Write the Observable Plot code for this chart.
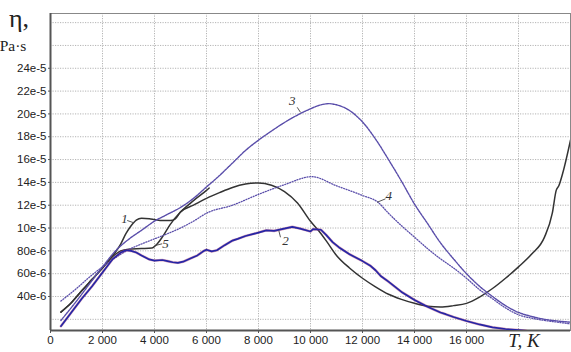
<!DOCTYPE html>
<html><head><meta charset="utf-8">
<script src="https://cdn.jsdelivr.net/npm/d3@7"></script>
<script src="https://cdn.jsdelivr.net/npm/@observablehq/plot@0.6"></script>
<style>body{margin:0;background:#fff} #chart svg{display:block}</style>
</head><body><div id="chart"></div>
<script>
// Values: temperature T (K) and viscosity eta (in units of 1e-5 Pa·s)
const T1 = [400,800,1200,1600,2000,2300,2500,2700,2900,3100,3300,3500,3800,4000,4300,4600,4800,5000,5500,6000,6500,7000,7500,8000,8500,9000,9500,10000,10300,10600,11000,11500,12000,12500,13000,13500,14000,14500,15000,15500,16000,16500,17000,17500,18000,18500,19000,19300,19450,19550,19700,20000];
const eta1 = [2.63,3.45,4.5,5.5,6.5,7.3,7.9,8.6,9.5,10.2,10.7,10.86,10.82,10.75,10.65,10.65,10.8,11.4,12.0,12.6,13.1,13.55,13.85,13.95,13.75,13.2,12.2,10.6,9.8,8.9,7.6,6.5,5.6,4.85,4.2,3.75,3.4,3.15,3.08,3.2,3.4,3.95,4.7,5.6,6.6,7.7,9.2,11.3,13.3,13.7,14.8,17.7];

const T2 = [400,800,1200,1600,2000,2400,2700,2900,3100,3300,3500,3800,4000,4300,4500,4700,4900,5100,5400,5650,5900,6000,6200,6400,6700,7000,7200,7500,8000,8300,8600,8900,9300,9600,10000,10100,10400,10600,10850,11100,11500,12000,12300,12500,12700,13000,13500,14000,14500,15000,15200,15500,16000,16500,17000,17500,18000,18300];
const eta2 = [1.4,2.6,3.8,4.9,6.1,7.3,7.85,8.05,8.0,7.85,7.6,7.25,7.15,7.2,7.1,7.0,6.95,7.05,7.35,7.6,8.0,8.1,7.95,8.05,8.5,8.9,9.05,9.3,9.6,9.8,9.75,9.9,10.1,9.95,9.7,9.9,9.85,9.4,8.76,8.3,7.7,7.1,6.7,6.3,5.8,5.3,4.4,3.7,3.1,2.6,2.45,2.2,1.85,1.55,1.3,1.15,1.05,1.0];

const T3 = [400,1000,1500,2000,2500,3000,3500,4000,4500,5000,5500,6000,6500,7000,7500,8000,8500,9000,9500,10000,10500,10700,11000,11500,12000,12500,13000,13500,14000,14500,15000,15500,16000,16500,17000,17500,18000,18500,19000,19500,20000];
const eta3 = [1.9,3.6,5.1,6.6,8.0,9.0,9.8,10.6,11.2,11.8,12.6,13.6,14.6,15.7,16.8,17.7,18.5,19.25,19.9,20.45,20.85,20.9,20.8,20.3,19.3,17.8,16.0,14.1,12.1,10.4,8.7,7.3,6.0,4.9,4.0,3.2,2.6,2.25,2.0,1.85,1.75];

const T4 = [400,1000,1500,2000,2500,3000,3500,4000,4500,5000,5500,6000,7000,8000,9000,10050,11000,12000,12600,13000,13500,14000,14500,15000,15500,16000,16500,17000,17500,18000,18500,19000,19500,20000];
const eta4 = [3.6,4.7,5.7,6.6,7.4,8.1,8.6,9.05,9.5,10.0,10.6,11.3,12.0,12.95,13.8,14.5,13.7,12.85,12.25,11.3,10.2,9.2,8.2,7.3,6.5,5.6,4.6,3.8,3.0,2.4,2.1,1.9,1.75,1.6];

const T5 = [400,800,1200,1600,2000,2300,2500,2700,3000,3500,3900,4100,4300,4600,5000,5500,6000,6100];
const eta5 = [2.63,3.45,4.5,5.5,6.5,7.3,7.7,8.0,8.15,8.2,8.25,8.6,9.2,10.3,11.4,12.4,13.3,13.5];

// Axis ticks
const xTicks = [0,2000,4000,6000,8000,10000,12000,14000,16000];
const xTickLabels = ["0","2 000","4 000","6 000","8 000","10 000","12 000","14 000","16 000"];
const xGrid = [2000,4000,6000,8000,10000,12000,14000,16000,18000];
const yTicks = [4e-5,6e-5,8e-5,10e-5,12e-5,14e-5,16e-5,18e-5,20e-5,22e-5,24e-5];
const yTickLabels = ["40e-6","60e-6","80e-6","10e-5","12e-5","14e-5","16e-5","18e-5","20e-5","22e-5","24e-5"];
const yGrid = [2e-5,4e-5,6e-5,8e-5,10e-5,12e-5,14e-5,16e-5,18e-5,20e-5,22e-5,24e-5,26e-5,28e-5];

// Curve number labels (data coordinates) and leader lines
const curveLabels = ["1","5","2","3","4"];
const labelT = [2846,4423,9038,9296,13012];
const labelEta = [10.81,8.62,8.9,21.17,12.85];
const leaderT1 = [2950,4296,8846,9488,12885];
const leaderEta1 = [10.66,8.62,9.19,20.58,12.56];
const leaderT2 = [3204,4038,8781,9615,12565];
const leaderEta2 = [10.46,8.47,9.78,20.14,12.26];

const rows = (T, E) => T.map((t, i) => ({T: t, eta: E[i] * 1e-5}));
const c1 = rows(T1, eta1), c2 = rows(T2, eta2), c3 = rows(T3, eta3), c4 = rows(T4, eta4), c5 = rows(T5, eta5);
const labs = curveLabels.map((s, i) => ({s, T: labelT[i], eta: labelEta[i] * 1e-5}));
const leaders = curveLabels.map((s, i) => ({x1: leaderT1[i], y1: leaderEta1[i] * 1e-5, x2: leaderT2[i], y2: leaderEta2[i] * 1e-5}));

const xLab = new Map(xTicks.map((d, i) => [d, xTickLabels[i]]));
const yLab = new Map(yTicks.map((d, i) => [d, yTickLabels[i]]));
const yMin = 1.02e-5, yMax = 2.88e-4;

const purple = "#5a4eaa";
const chart = Plot.plot({
  width: 571, height: 352,
  marginLeft: 50, marginRight: 1, marginTop: 13, marginBottom: 22,
  x: {domain: [0, 20000]},
  y: {domain: [yMin, yMax]},
  style: {fontFamily: "'Liberation Sans', Arial, sans-serif", fontSize: "11px", color: "#222", background: "#fff"},
  marks: [
    Plot.gridX(xGrid, {stroke: "#b4b4b4", strokeOpacity: 1, strokeWidth: 1, strokeDasharray: "1.2,1.3"}),
    Plot.gridY(yGrid, {stroke: "#b4b4b4", strokeOpacity: 1, strokeWidth: 1, strokeDasharray: "1.2,1.3"}),
    Plot.frame({stroke: "#888", strokeWidth: 1}),
    Plot.ruleX([0], {stroke: "#555", strokeWidth: 2}),
    Plot.ruleY([yMin], {stroke: "#555", strokeWidth: 2}),
    Plot.axisX(xTicks, {tickFormat: d => xLab.get(d), tickSize: 3, tickPadding: 2, fontSize: 11.5, stroke: "#555"}),
    Plot.axisY(yTicks, {tickFormat: d => yLab.get(d), tickSize: 2, tickPadding: 2, fontSize: 11.5, stroke: "#555"}),
    Plot.line(c1, {x: "T", y: "eta", stroke: "#333", strokeWidth: 1.5, curve: "monotone-x", clip: true}),
    Plot.line(c5, {x: "T", y: "eta", stroke: "#333", strokeWidth: 1.5, curve: "monotone-x", clip: true}),
    Plot.line(c3, {x: "T", y: "eta", stroke: purple, strokeWidth: 1.4, strokeDasharray: "2,1", curve: "monotone-x", clip: true}),
    Plot.line(c4, {x: "T", y: "eta", stroke: purple, strokeWidth: 1.3, strokeDasharray: "1,1.6", curve: "monotone-x", clip: true}),
    Plot.line(c2, {x: "T", y: "eta", stroke: "#b03a6a", strokeWidth: 2.6, strokeOpacity: 0.45, clip: true}),
    Plot.line(c2, {x: "T", y: "eta", stroke: "#2626a6", strokeWidth: 1.7, clip: true}),
    Plot.link(leaders, {x1: "x1", y1: "y1", x2: "x2", y2: "y2", stroke: "#444", strokeWidth: 0.9}),
    Plot.text(labs, {x: "T", y: "eta", text: "s", fontFamily: "'Liberation Serif', 'Times New Roman', serif", fontStyle: "italic", fontSize: 13, fill: "#333"})
  ]
});
document.getElementById("chart").appendChild(chart);

// Axis titles (text in the margins)
const svg = d3.select(chart);
svg.append("text").attr("x", 19).attr("y", 27).attr("font-family", "'Liberation Serif', 'Times New Roman', serif").attr("font-size", 26).attr("fill", "#222").text("η,");
svg.append("text").attr("x", 13).attr("y", 51).attr("font-family", "'Liberation Serif', 'Times New Roman', serif").attr("font-size", 15.5).attr("fill", "#222").text("Pa·s");
svg.append("text").attr("x", 524).attr("y", 347).attr("font-family", "'Liberation Serif', 'Times New Roman', serif").attr("font-style", "italic").attr("font-size", 19).attr("fill", "#222").text("T, K");
</script>
</body></html>
